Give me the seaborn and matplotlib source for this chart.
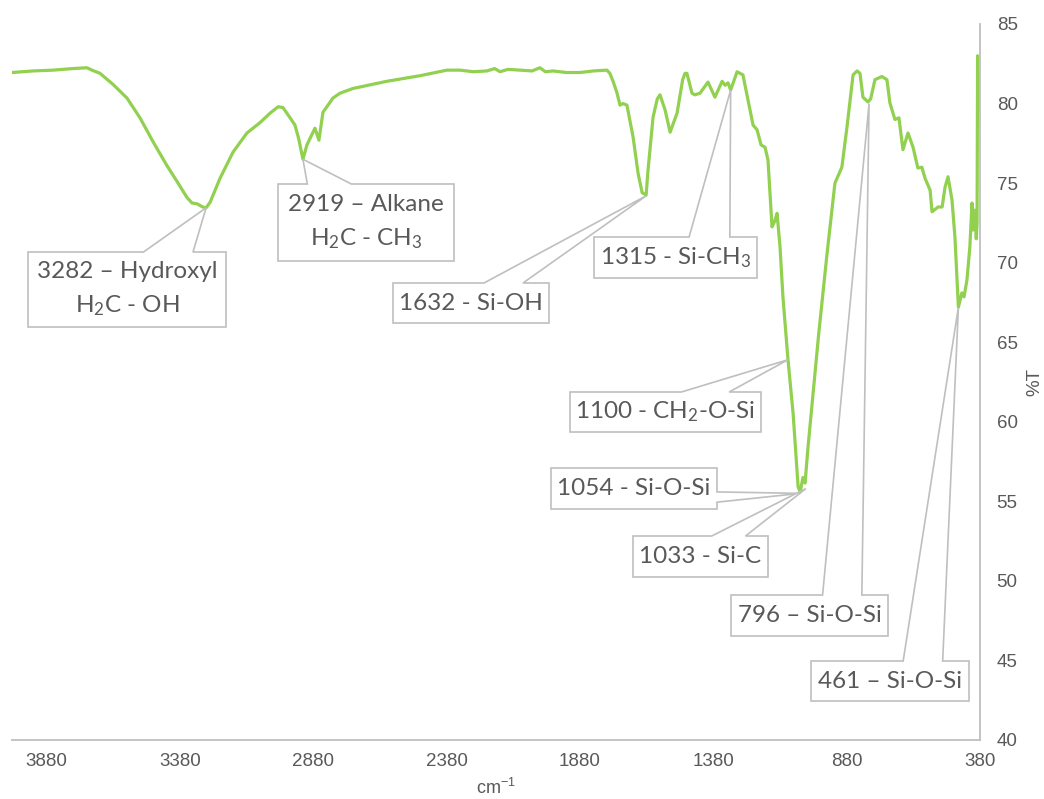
import numpy as np
import pandas as pd
import matplotlib
matplotlib.use("Agg")
import matplotlib.pyplot as plt
import seaborn as sns
from matplotlib.patches import Polygon
from matplotlib.transforms import IdentityTransform

# ---------------- data ----------------
wavenumber = [4010, 3931, 3856, 3781, 3729, 3710, 3680, 3631, 3579, 3530, 3481, 3429,
              3391, 3354, 3335, 3316, 3295, 3282, 3267, 3230, 3181, 3129, 3080, 3042,
              3012, 2994, 2967, 2949, 2935, 2919, 2904, 2874, 2859, 2844, 2806, 2780,
              2731, 2604, 2480, 2379, 2330, 2280, 2229, 2200, 2180, 2150, 2105, 2060,
              2030, 2010, 1981, 1930, 1880, 1830, 1779, 1768, 1756, 1741, 1730, 1719,
              1704, 1681, 1662, 1647, 1632, 1625, 1606, 1590, 1580, 1561, 1542, 1516,
              1495, 1486, 1479, 1460, 1449, 1430, 1400, 1374, 1347, 1336, 1325, 1315,
              1291, 1269, 1231, 1216, 1201, 1186, 1175, 1160, 1150, 1141, 1130, 1119,
              1100, 1081, 1062, 1054, 1044, 1036, 1025, 985, 954, 924, 898, 879,
              856, 841, 830, 819, 800, 790, 774, 748, 729, 718, 699, 684,
              669, 650, 631, 613, 598, 586, 567, 560, 537, 522, 511, 500,
              485, 474, 461, 448, 440, 429, 418, 410, 406, 399, 394, 391,
              389, 387]
transmittance = [81.95, 82.05, 82.1, 82.2, 82.25, 82.1, 81.9, 81.2, 80.35, 79.1, 77.6, 76.1,
                 75.1, 74.1, 73.75, 73.7, 73.5, 73.45, 73.8, 75.3, 76.95, 78.15, 78.8, 79.4,
                 79.8, 79.75, 79.1, 78.65, 77.8, 76.5, 77.4, 78.45, 77.7, 79.45, 80.35, 80.65,
                 80.95, 81.4, 81.75, 82.1, 82.1, 82.0, 82.05, 82.2, 82.0, 82.15, 82.1, 82.05,
                 82.25, 82.0, 82.05, 81.95, 81.95, 82.05, 82.1, 81.9, 81.4, 80.65, 79.9, 80.0,
                 79.9, 77.9, 75.6, 74.4, 74.25, 75.8, 79.15, 80.3, 80.55, 79.6, 78.2, 79.4,
                 81.5, 81.9, 81.9, 80.65, 80.55, 80.65, 81.35, 80.4, 81.4, 81.15, 81.3, 80.85,
                 82.0, 81.8, 78.65, 78.35, 77.4, 77.25, 76.45, 72.25, 72.6, 73.1, 71.0, 67.85,
                 63.9, 60.55, 55.9, 55.6, 56.5, 56.15, 58.4, 65.5, 70.5, 75.0, 76.0, 78.5,
                 81.8, 82.05, 81.9, 80.4, 80.1, 80.3, 81.5, 81.7, 81.5, 80.05, 79.0, 79.1,
                 77.1, 78.15, 77.25, 75.95, 76.0, 75.3, 74.55, 73.2, 73.5, 73.5, 74.75, 75.4,
                 73.95, 71.6, 67.2, 68.1, 67.85, 68.9, 71.0, 73.75, 72.05, 73.3, 71.5, 72.5,
                 83.0, 79.5]

peak_labels = ["3282 – Hydroxyl\nH$_2$C - OH",
               "2919 – Alkane\nH$_2$C - CH$_3$",
               "1632 - Si-OH",
               "1315 - Si-CH$_3$",
               "1100 - CH$_2$-O-Si",
               "1054 - Si-O-Si",
               "1033 - Si-C",
               "796 – Si-O-Si",
               "461 – Si-O-Si"]
peak_x = [3282, 2919, 1632, 1315, 1100, 1054, 1033, 796, 461]
peak_y = [73.45, 76.5, 74.2, 80.85, 63.9, 55.5, 55.8, 80.0, 67.2]

x_ticks = [3880, 3380, 2880, 2380, 1880, 1380, 880, 380]
y_ticks = [40, 45, 50, 55, 60, 65, 70, 75, 80, 85]

# ---------------- layout (pixels, top-left origin) ----------------
W, H = 1044, 799
boxes = [(28, 252, 226, 327), (278, 184, 454, 261), (393, 283, 549, 323),
         (594, 237, 757, 278), (570, 392, 761, 432), (551, 468, 717, 509),
         (633, 536, 768, 577), (731, 595, 888, 636), (811, 661, 969, 701)]

GRAY = "#BFBFBF"
TXT = "#595959"
GREEN = "#92D050"

sns.set_theme(style="white")
plt.rcParams["font.family"] = ["Liberation Sans", "DejaVu Sans"]
plt.rcParams["mathtext.default"] = "regular"

fig = plt.figure(figsize=(W / 100, H / 100), dpi=100)
ax = fig.add_axes([12 / W, (H - 740) / H, 968 / W, 716 / H])

df = pd.DataFrame({"wavenumber": wavenumber, "T": transmittance})
sns.lineplot(data=df, x="wavenumber", y="T", sort=False, estimator=None,
             color=GREEN, lw=2.3, ax=ax)

ax.set_xlim(4010, 380)
ax.set_ylim(40, 85)
ax.set_xticks(x_ticks)
ax.set_yticks(y_ticks)
ax.yaxis.tick_right()
ax.yaxis.set_label_position("right")
for s in ["top", "left"]:
    ax.spines[s].set_visible(False)
for s in ["bottom", "right"]:
    ax.spines[s].set_color(GRAY)
    ax.spines[s].set_linewidth(1.3)
ax.tick_params(axis="x", length=0, pad=9, labelsize=13.5, labelcolor=TXT)
ax.tick_params(axis="y", length=0, pad=12, labelsize=13.5, labelcolor=TXT)
ax.set_xlabel("cm$^{-1}$", fontsize=13, color=TXT, labelpad=6)
ax.set_ylabel("%T", fontsize=13.5, color=TXT, labelpad=6)
ax.grid(False)


def callout(box, tip):
    l, t, r, b = box
    x0, x1 = l, r
    y0, y1 = H - b, H - t  # y-up display
    w, h = x1 - x0, y1 - y0
    cx, cy = (x0 + x1) / 2, (y0 + y1) / 2
    tx, ty = tip
    dxp, dyp = tx - cx, ty - cy
    BL, BR, TR, TL = (x0, y0), (x1, y0), (x1, y1), (x0, y1)
    if abs(dyp * w) > abs(dxp * h):
        if dxp > 0:
            bx = [x0 + w * 7 / 12, x0 + w * 10 / 12]
        else:
            bx = [x0 + w * 2 / 12, x0 + w * 5 / 12]
        if dyp > 0:  # top edge
            verts = [BL, BR, TR, (bx[1], y1), (tx, ty), (bx[0], y1), TL]
        else:  # bottom edge
            verts = [BL, (bx[0], y0), (tx, ty), (bx[1], y0), BR, TR, TL]
    else:
        if dyp < 0:  # tip below centre
            by = [y1 - h * 7 / 12, y1 - h * 10 / 12]
        else:
            by = [y1 - h * 2 / 12, y1 - h * 5 / 12]
        if dxp > 0:  # right edge
            verts = [BL, BR, (x1, min(by)), (tx, ty), (x1, max(by)), TR, TL]
        else:  # left edge
            verts = [BL, BR, TR, TL, (x0, max(by)), (tx, ty), (x0, min(by))]
    return verts, (cx, cy)


fig.canvas.draw()
for lab, px_, py_, box in zip(peak_labels, peak_x, peak_y, boxes):
    tip = ax.transData.transform((px_, py_))
    verts, (cx, cy) = callout(box, tip)
    poly = Polygon(verts, closed=True, facecolor="white", edgecolor=GRAY,
                   lw=1.2, transform=IdentityTransform(), zorder=5, clip_on=False)
    fig.add_artist(poly)
    fig.text(cx / W, cy / H, lab, ha="center", va="center", fontsize=17.5,
             color=TXT, family=["Lato", "DejaVu Sans"], linespacing=1.55, zorder=6)

fig.savefig("out.png", dpi=100)
